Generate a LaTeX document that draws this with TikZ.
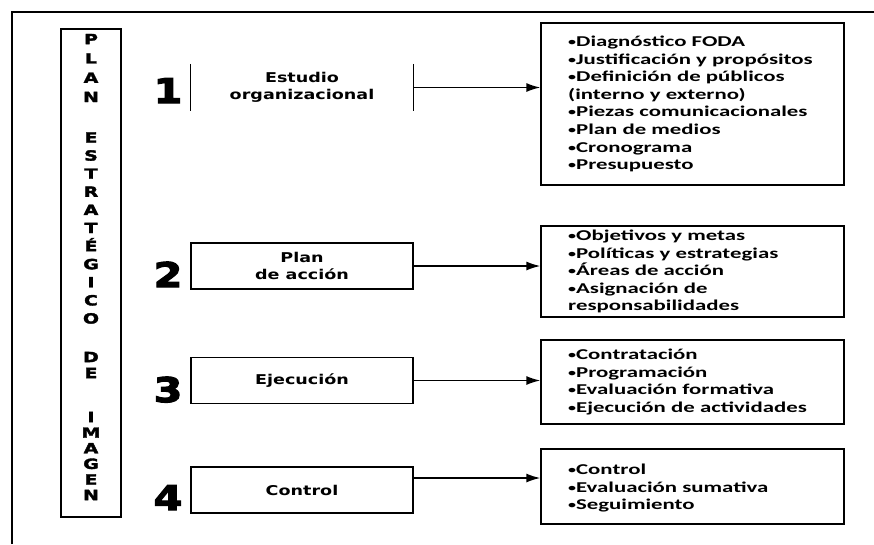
\documentclass[tikz,border=0pt]{standalone}
\usepackage{fontspec}
\usetikzlibrary{arrows.meta}
\newfontfamily\itemfont{Carlito}[FakeStretch=1.52]
\newfontfamily\stagefont{DejaVu Sans}[FakeStretch=1.3]
\newfontfamily\numfont{DejaVu Sans}[FakeStretch=1.22,FakeBold=3.5]
\newfontfamily\titlefont{DejaVu Sans}[FakeStretch=1.35,FakeBold=2.5]
\newcommand{\itm}{\raisebox{1pt}{\scalebox{0.7}{•}}}

\begin{document}
\begin{tikzpicture}[x=1pt, y=-1pt,
        frame/.style={line width=2.6pt},
        titlebox/.style={rectangle, draw, line width=1.2pt, minimum width=60pt, minimum height=488pt},
        titleword/.style={align=center, inner sep=0pt, font=\titlefont\bfseries\fontsize{14}{#1}\selectfont},
        bignum/.style={anchor=base, inner sep=0pt, font=\numfont\bfseries\fontsize{34}{34}\selectfont},
        stagebox/.style={rectangle, draw, line width=1.1pt, minimum width=222pt, minimum height=46pt, inner sep=0pt, align=center, font=\stagefont\bfseries\fontsize{13.5}{17}\selectfont},
        listbox/.style={rectangle, draw, line width=1.3pt, minimum width=303pt},
        listtext/.style={anchor=west, align=left, inner sep=0pt, font=\itemfont\bfseries\fontsize{15}{17.6}\selectfont},
        link/.style={-{Latex[length=14pt, width=9pt]}, line width=1.6pt}
    ]
    \useasboundingbox (0,0) rectangle (874,544);

    % outer frame
    \draw[frame] (12,544) -- (12,12) -- (874,12);

    % vertical title
    \node[titlebox] (title_box) at (91,273) {};
    \node[titleword=19.3] (title_plan) at (91,68) {P\\L\\A\\N};
    \node[titleword=18.1] (title_estrategico) at (91,228) {E\\S\\T\\R\\A\\T\\É\\G\\I\\C\\O};
    \node[titleword=16] (title_de) at (91,365) {D\\E};
    \node[titleword=15.6] (title_imagen) at (91,456) {I\\M\\A\\G\\E\\N};

    % Stage 1: estudio organizacional
    \node[bignum] (step1_num) at (168,103) {1};
    \node[stagebox, draw=none] (step1_box) at (302,87.5) {Estudio\\organizacional};
    \draw[line width=1.1pt] (step1_box.north west) -- (step1_box.south west)
        (step1_box.north east) -- (step1_box.south east);
    \node[listbox, minimum height=162pt] (step1_list) at (692.5,104) {};
    \node[listtext] (step1_items) at (568,104) {\itm Diagnóstico FODA\\\itm Justificación y propósitos\\\itm Definición de públicos\\(interno y externo)\\\itm Piezas comunicacionales\\\itm Plan de medios\\\itm Cronograma\\\itm Presupuesto};
    \draw[link] (step1_box.east) -- (step1_box.east -| step1_list.west);

    % Stage 2: plan de accion
    \node[bignum] (step2_num) at (168,287) {2};
    \node[stagebox] (step2_box) at (302,266) {Plan\\de acción};
    \node[listbox, minimum height=91pt] (step2_list) at (692.5,271.5) {};
    \node[listtext] (step2_items) at (568,271.5) {\itm Objetivos y metas\\\itm Políticas y estrategias\\\itm Áreas de acción\\\itm Asignación de\\responsabilidades};
    \draw[link] (step2_box.east) -- (step2_box.east -| step2_list.west);

    % Stage 3: ejecucion
    \node[bignum] (step3_num) at (168,402) {3};
    \node[stagebox] (step3_box) at (302,380.5) {Ejecución};
    \node[listbox, minimum height=84pt] (step3_list) at (692.5,382) {};
    \node[listtext] (step3_items) at (568,382) {\itm Contratación\\\itm Programación\\\itm Evaluación formativa\\\itm Ejecución de actividades};
    \draw[link] (step3_box.east) -- (step3_box.east -| step3_list.west);

    % Stage 4: control
    \node[bignum] (step4_num) at (168,510) {4};
    \node[stagebox] (step4_box) at (302,490) {Control};
    \node[listbox, minimum height=75pt] (step4_list) at (692.5,486.5) {};
    \node[listtext] (step4_items) at (568,488) {\itm Control\\\itm Evaluación sumativa\\\itm Seguimiento};
    \draw[link] ([yshift=12pt]step4_box.east) -- ([yshift=12pt]step4_box.east -| step4_list.west);

\end{tikzpicture}
\end{document}
